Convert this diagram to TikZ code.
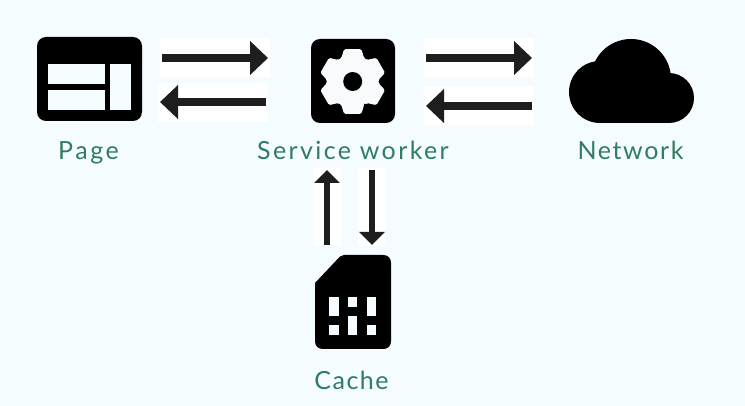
\documentclass[tikz,border=0pt]{standalone}
\usepackage{fontspec}
\setmainfont{Lato}
\usetikzlibrary{arrows.meta}
\definecolor{bgc}{HTML}{F5FCFF}
\definecolor{arrowc}{HTML}{1E1E1E}
\definecolor{labelc}{HTML}{2F7D62}
\definecolor{gearc}{HTML}{F8FBFC}
\tikzset{
  whitebox/.style={fill=white,draw=none,inner sep=0pt,outer sep=0pt},
  iconbox/.style={fill=black,draw=none,rounded corners=9pt,inner sep=0pt,outer sep=0pt},
  hband/.style={arrowc,line width=8pt,-{Triangle[length=18pt,width=33pt]}},
  vband/.style={arrowc,line width=6pt,-{Triangle[length=13pt,width=25pt]}},
  hole/.style={fill=bgc,draw=none},
  lbl/.style={text=labelc,anchor=base,inner sep=0pt,font=\fontsize{25}{28}\selectfont}
}
\begin{document}
\begin{tikzpicture}[x=1pt,y=-1pt]
\useasboundingbox (0,0) rectangle (745,406);
\fill[bgc] (0,0) rectangle (745,406);
% white backings
\node[whitebox,minimum width=110pt,minimum height=39pt] (w1) at (215,57.5) {};
\node[whitebox,minimum width=110pt,minimum height=39pt] (w2) at (213,102.5) {};
\node[whitebox,minimum width=110pt,minimum height=39pt] (w3) at (479,57.5) {};
\node[whitebox,minimum width=110pt,minimum height=39pt] (w4) at (479,106) {};
\node[whitebox,minimum width=28pt,minimum height=78pt] (w5) at (327,207) {};
\node[whitebox,minimum width=28pt,minimum height=78pt] (w6) at (372,207) {};
% page icon
\node[iconbox,minimum width=105pt,minimum height=84pt] (page) at (89.5,79) {};
\fill[hole] (48,64) rectangle (105,84);
\fill[hole] (48,90) rectangle (105,110);
\fill[hole] (110,64) rectangle (131,110);
% gear icon
\node[iconbox,minimum width=84pt,minimum height=84pt] (sw) at (353,81) {};
\begin{scope}[shift={(352.7,81.5)}]
\fill[gearc,rounded corners=1.5pt] (64:26) foreach \a in {90,150,210,270,330,390} { -- (\a-26:26) -- (\a-15:33.5) -- (\a+15:33.5) -- (\a+26:26)} -- cycle;
\fill[black] (0,0) circle (9.5);
\end{scope}
% cloud
\coordinate (cl) at (631,81);
\fill[black] (600,92) circle (31) (631,79) circle (40) (669,98) circle (25);
\fill[black] (600,90) rectangle (669,123);
\node[inner sep=0pt,outer sep=0pt,minimum width=126pt,minimum height=84pt] (net) at (cl) {};
% sim icon
\fill[black] (315,283) -- (340,256.5) .. controls (341.5,255.3) and (342.5,255) .. (344,255) -- (383,255) .. controls (388,255) and (391,258) .. (391,263) -- (391,341) .. controls (391,346) and (388,349) .. (383,349) -- (323,349) .. controls (318,349) and (315,346) .. (315,341) -- cycle;
\node[inner sep=0pt,outer sep=0pt,minimum width=76pt,minimum height=94pt] (cache) at (353,302) {};
\fill[hole] (329,297) rectangle (339,316);
\fill[hole] (329,325) rectangle (339,335);
\fill[hole] (348,297) rectangle (357,307);
\fill[hole] (348,316) rectangle (357,335);
\fill[hole] (367,297) rectangle (376,316);
\fill[hole] (367,325) rectangle (376,335);
% labels
\node[lbl] (lp) at (88.5,160) {\addfontfeatures{LetterSpace=10}Page};
\node[lbl] (ls) at (353,160) {\addfontfeatures{LetterSpace=9.5}Service worker};
\node[lbl] (ln) at (630.5,160) {\addfontfeatures{LetterSpace=6.5}Network};
\node[lbl] (lc) at (351.5,389) {\addfontfeatures{LetterSpace=6}Cache};
% arrow ends
\coordinate (a1s) at (162,58); \coordinate (a1e) at (268,58);
\coordinate (a2s) at (266,102); \coordinate (a2e) at (160,102);
\coordinate (a3s) at (426,58); \coordinate (a3e) at (532,58);
\coordinate (a4s) at (532,106); \coordinate (a4e) at (426,106);
\coordinate (a5s) at (327,245); \coordinate (a5e) at (327,170);
\coordinate (a6s) at (372,170); \coordinate (a6e) at (372,245);
\draw[hband] (a1s) -- (a1e);
\draw[hband] (a2s) -- (a2e);
\draw[hband] (a3s) -- (a3e);
\draw[hband] (a4s) -- (a4e);
\draw[vband] (a5s) -- (a5e);
\draw[vband] (a6s) -- (a6e);
\end{tikzpicture}
\end{document}
